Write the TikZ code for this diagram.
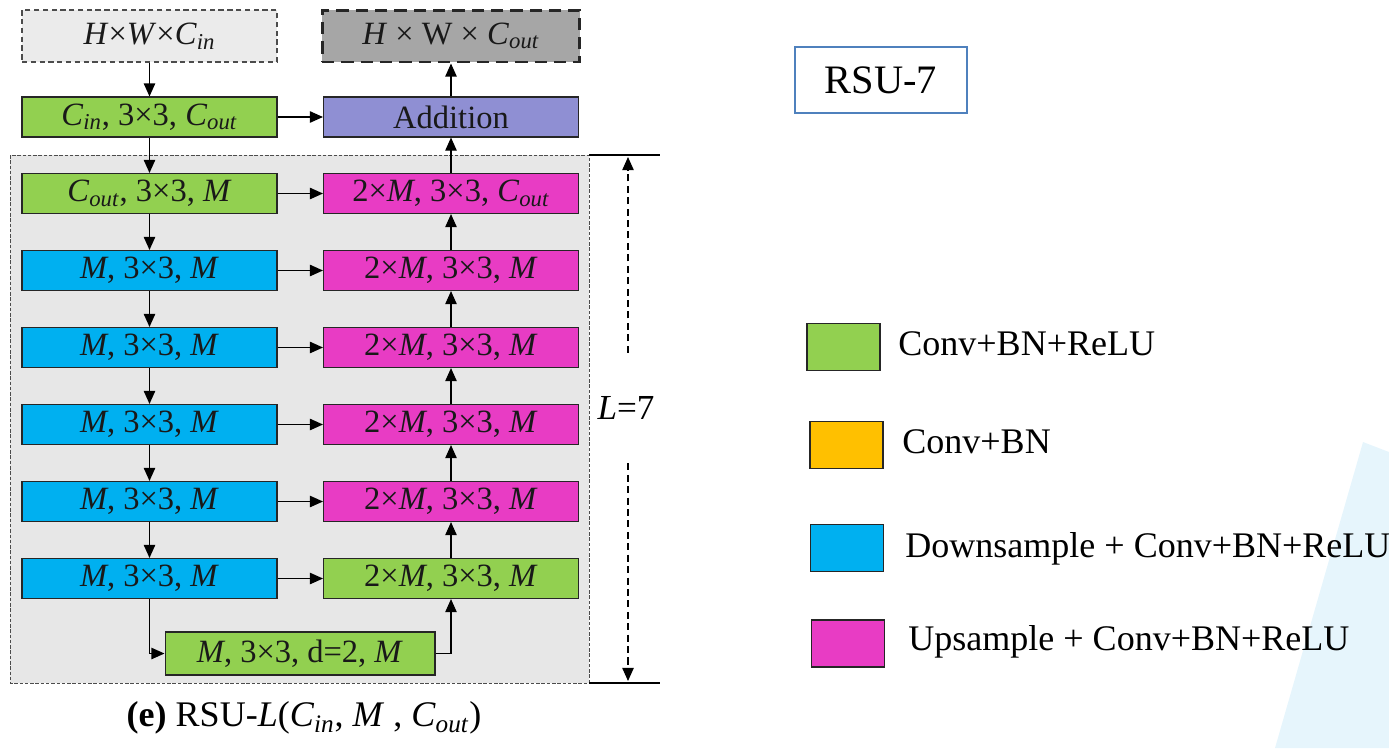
\documentclass[tikz,border=0pt]{standalone}
\usepackage{fontspec}
\setmainfont{Liberation Serif}
\usetikzlibrary{arrows.meta}

\definecolor{convgreen}{HTML}{92D050}
\definecolor{downblue}{HTML}{00B0F0}
\definecolor{uppink}{HTML}{E83CC4}
\definecolor{convorange}{HTML}{FFC000}
\definecolor{addpurple}{HTML}{8F8FD3}
\definecolor{ingray}{HTML}{EBEBEB}
\definecolor{outgray}{HTML}{A6A6A6}
\definecolor{regiongray}{HTML}{E7E7E7}
\definecolor{rsublue}{HTML}{4F81BD}
\definecolor{bgblue}{HTML}{E6F5FC}

\newcommand{\Cin}{\textit{C}\textsubscript{\textit{in}}}
\newcommand{\Cout}{\textit{C}\textsubscript{\textit{out}}}

\begin{document}
\begin{tikzpicture}[x=0.02cm,y=-0.02cm,
  blok/.style={draw=black!85,line width=0.6pt,minimum width=5.1cm,minimum height=0.8cm,
    inner sep=0pt,text=black!90,font=\fontsize{18.5}{22}\selectfont},
  verde/.style={blok,fill=convgreen},
  albastru/.style={blok,fill=downblue},
  roz/.style={blok,fill=uppink},
  sag/.style={-{Triangle[length=7.5pt,width=6.5pt]},line width=0.8pt},
  patrat/.style={draw=black!85,line width=0.9pt,minimum width=1.46cm,minimum height=0.94cm,inner sep=0pt},
  leg/.style={anchor=west,inner sep=0pt,text depth=0pt,font=\fontsize{20.5}{24}\selectfont}]

  \useasboundingbox (0,0) rectangle (1389,748);

  % fundal
  \fill[bgblue] (1363,442) -- (1389,452) -- (1389,748) -- (1275,748) -- cycle;
  \draw[dashed,fill=regiongray,draw=black!70,line width=0.5pt,dash pattern=on 2pt off 1pt] (10,155) rectangle (589,683);

  % intrare si iesire
  \node[blok,fill=ingray,draw=black!70,dash pattern=on 3pt off 2pt,minimum height=1.04cm] (in) at (149.5,36) {\textit{H}×\textit{W}×\Cin};
  \node[blok,fill=outgray,line width=1.7pt,dash pattern=on 7pt off 4pt,minimum width=5.16cm,minimum height=1.04cm] (out) at (451,36) {\textit{H} × W × \Cout};

  % blocuri
  \node[verde] (e1) at (149.5,117) {\Cin, 3×3, \Cout};
  \node[blok,fill=addpurple] (add) at (451,117) {Addition};
  \node[verde] (e2) at (149.5,193.5) {\Cout, 3×3, \textit{M}};
  \node[roz] (d2) at (451,193.5) {2×\textit{M}, 3×3, \Cout};
  \foreach \i in {3,...,7}
    \node[albastru] (e\i) at (149.5,{193.5+77*(\i-2)}) {\textit{M}, 3×3, \textit{M}};
  \foreach \i in {3,...,6}
    \node[roz] (d\i) at (451,{193.5+77*(\i-2)}) {2×\textit{M}, 3×3, \textit{M}};
  \node[verde] (d7) at (451,578.5) {2×\textit{M}, 3×3, \textit{M}};
  \node[verde,minimum width=5.4cm,minimum height=0.86cm] (b) at (300,653.5) {\textit{M}, 3×3, d=2, \textit{M}};

  % sageti
  \draw[sag] (in) -- (e1);
  \draw[sag] (e1) -- (add);
  \draw[sag] (add) -- (out);
  \draw[sag] (e1) -- (e2);
  \draw[sag] (d2) -- (add);
  \foreach \i [evaluate=\i as \j using int(\i+1)] in {2,...,6} {
    \draw[sag] (e\i) -- (e\j);
    \draw[sag] (d\j) -- (d\i);
  }
  \foreach \i in {2,...,7}
    \draw[sag] (e\i) -- (d\i);
  \draw[sag] (e7.south) |- (b.west);
  \draw[sag] (b.east) -| (d7.south);

  % L=7
  \draw[line width=1.6pt] (589,155) -- (660,155);
  \draw[line width=1.6pt] (589,683) -- (660,683);
  \coordinate (lsus) at (628,157);
  \coordinate (ljos) at (628,681);
  \node[font=\fontsize{20}{24}\selectfont,minimum height=2.2cm,inner sep=0pt] (L) at (626,408) {\textit{L}=7};
  \draw[sag,dash pattern=on 4pt off 2.5pt] (L.north -| lsus) -- (lsus);
  \draw[sag,dash pattern=on 4pt off 2.5pt] (L.south -| ljos) -- (ljos);

  % titlu
  \node[font=\fontsize{20.5}{24}\selectfont] (cap) at (304,718) {\textbf{(e)} RSU-\textit{L}(\Cin, \textit{M} , \Cout)};
  \node[draw=rsublue,fill=white,line width=1.3pt,minimum width=3.44cm,minimum height=1.32cm,
    font=\fontsize{23}{27}\selectfont] (rsu) at (881,80) {RSU-7};

  % legenda
  \node[patrat,fill=convgreen] (l1) at (843.5,347) {};
  \node[patrat,fill=convorange] (l2) at (846.5,445) {};
  \node[patrat,fill=downblue] (l3) at (847,548) {};
  \node[patrat,fill=uppink] (l4) at (848,643.5) {};
  \node[leg] (t1) at (898,344) {Conv+BN+ReLU};
  \node[leg] (t2) at (902,442) {Conv+BN};
  \node[leg] (t3) at (905,545) {Downsample + Conv+BN+ReLU};
  \node[leg] (t4) at (908,638) {Upsample + Conv+BN+ReLU};
\end{tikzpicture}
\end{document}
